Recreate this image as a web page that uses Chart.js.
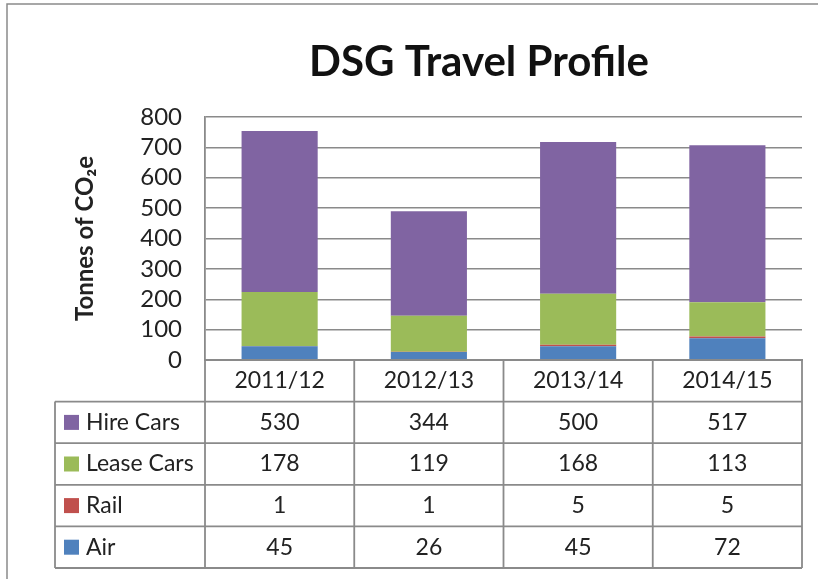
<!DOCTYPE html>
<html>
<head>
<meta charset="utf-8">
<title>DSG Travel Profile</title>
<script src="https://cdn.jsdelivr.net/npm/chart.js@4"></script>
<style>body{margin:0;background:#fff}</style>
</head>
<body>
<canvas id="travelChart" width="818" height="579"></canvas>
<script>
const years = ['2011/12', '2012/13', '2013/14', '2014/15'];
const air = [45, 26, 45, 72];
const rail = [1, 1, 5, 5];
const leaseCars = [178, 119, 168, 113];
const hireCars = [530, 344, 500, 517];

const lineGrey = '#8a8a8a';
const textCol = '#222';
Chart.defaults.font.family = 'Lato';

// frame, title and the data table under the plot
const tablePlugin = {
    id: 'dataTable',
    afterDraw(chart) {
        const ctx = chart.ctx;
        const area = chart.chartArea;
        const xs = chart.scales.x;
        const colW = (area.right - area.left) / years.length;
        const rowH = 41.6;
        const tableLeft = 55;
        const rows = chart.data.datasets.slice().reverse();

        ctx.save();
        // outer chart border (only top & left visible in the crop)
        ctx.strokeStyle = lineGrey;
        ctx.lineWidth = 1.5;
        ctx.beginPath();
        ctx.moveTo(7, 600); ctx.lineTo(7, 4); ctx.lineTo(830, 4);
        ctx.stroke();

        // title
        ctx.fillStyle = '#111';
        ctx.font = 'bold 42px Lato';
        ctx.textAlign = 'center';
        ctx.textBaseline = 'alphabetic';
        ctx.fillText('DSG Travel Profile', 479, 76);

        // table lines
        ctx.strokeStyle = lineGrey;
        ctx.lineWidth = 1.8;
        ctx.beginPath();
        const top = area.bottom;
        const bottom = top + rowH * (rows.length + 1);
        for (let r = 0; r <= rows.length + 1; r++) {
            const y = top + r * rowH;
            ctx.moveTo(r < 1 ? area.left : tableLeft, y);
            ctx.lineTo(area.right, y);
        }
        for (let c = 0; c <= years.length; c++) {
            const x = area.left + c * colW;
            ctx.moveTo(x, top);
            ctx.lineTo(x, bottom);
        }
        ctx.moveTo(tableLeft, top + rowH);
        ctx.lineTo(tableLeft, bottom);
        ctx.stroke();

        // header and cells
        ctx.font = '23px Lato';
        ctx.fillStyle = textCol;
        ctx.textBaseline = 'middle';
        ctx.textAlign = 'center';
        years.forEach((yr, i) => {
            ctx.fillText(yr, xs.getPixelForValue(i), top + rowH / 2);
        });
        rows.forEach((ds, r) => {
            const cy = top + (r + 1.5) * rowH;
            ctx.fillStyle = ds.backgroundColor;
            ctx.fillRect(64, cy - 7.5, 15, 15);
            ctx.fillStyle = textCol;
            ctx.textAlign = 'left';
            ctx.fillText(ds.label, 86, cy);
            ctx.textAlign = 'center';
            ds.data.forEach((v, i) => {
                ctx.fillText(String(v), xs.getPixelForValue(i), cy);
            });
        });
        ctx.restore();
    }
};

new Chart(document.getElementById('travelChart'), {
    type: 'bar',
    data: {
        labels: years,
        datasets: [
            { label: 'Air', data: air, backgroundColor: '#4F81BD' },
            { label: 'Rail', data: rail, backgroundColor: '#C0504D' },
            { label: 'Lease Cars', data: leaseCars, backgroundColor: '#9BBB59' },
            { label: 'Hire Cars', data: hireCars, backgroundColor: '#8064A2' }
        ]
    },
    options: {
        responsive: false,
        animation: false,
        layout: { padding: { top: 117, right: 16, bottom: 219, left: 0 } },
        datasets: { bar: { barPercentage: 0.51, categoryPercentage: 1 } },
        plugins: {
            legend: { display: false },
            tooltip: { enabled: false },
            title: { display: false }
        },
        scales: {
            x: {
                stacked: true,
                ticks: { display: false },
                grid: { display: false },
                border: { display: true, color: lineGrey, width: 1.8 },
                afterFit: s => { s.height = 0; }
            },
            y: {
                stacked: true,
                min: 0,
                max: 800,
                ticks: { stepSize: 100, autoSkip: false, padding: 23, color: textCol, font: { size: 24 } },
                grid: { color: lineGrey, lineWidth: 1.5, drawTicks: false },
                border: { display: true, color: lineGrey, width: 1.8 },
                title: {
                    display: true,
                    text: 'Tonnes of CO₂e',
                    color: textCol,
                    font: { size: 24, weight: 'bold' },
                    padding: { top: 71, bottom: 0 }
                },
                afterFit: s => { s.width = 205; }
            }
        }
    },
    plugins: [tablePlugin]
});
</script>
</body>
</html>
